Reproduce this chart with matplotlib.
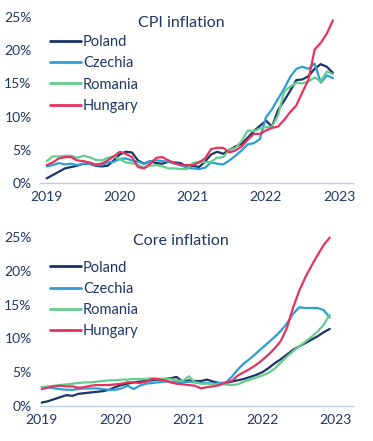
import matplotlib
matplotlib.use('Agg')
import matplotlib.pyplot as plt
import numpy as np

# ---------------- data (monthly, Jan 2019 - Dec 2022) ----------------
countries = ['Poland', 'Czechia', 'Romania', 'Hungary']
year_ticks = ['2019', '2020', '2021', '2022', '2023']
y_ticks = [0, 5, 10, 15, 20, 25]

cpi_poland = [0.7, 1.2, 1.7, 2.2, 2.4, 2.6, 2.9, 2.9, 2.6, 2.5, 2.6, 3.4,
              4.3, 4.7, 4.6, 3.4, 2.9, 3.3, 3.0, 2.9, 3.2, 3.1, 3.0, 2.4,
              2.6, 2.4, 3.2, 4.3, 4.7, 4.4, 5.0, 5.5, 5.9, 6.8, 7.8, 8.6,
              9.4, 8.5, 11.0, 12.4, 13.9, 15.5, 15.6, 16.1, 17.2, 17.9, 17.5, 16.6]
cpi_czechia = [2.5, 2.7, 3.0, 2.8, 2.9, 2.7, 2.9, 2.9, 2.7, 2.7, 3.1, 3.2,
               3.6, 3.7, 3.4, 3.2, 2.9, 3.3, 3.4, 3.3, 3.2, 2.9, 2.7, 2.3,
               2.2, 2.1, 2.3, 3.1, 2.9, 2.8, 3.4, 4.1, 4.9, 5.8, 6.0, 6.6,
               9.9, 11.1, 12.7, 14.2, 16.0, 17.2, 17.5, 17.2, 18.0, 15.1, 16.2, 15.8]
cpi_romania = [3.3, 4.0, 4.0, 4.1, 4.1, 3.8, 4.1, 3.9, 3.5, 3.4, 3.8, 4.0,
               3.6, 3.1, 3.0, 2.7, 2.3, 2.6, 2.7, 2.5, 2.2, 2.2, 2.1, 2.1,
               3.0, 3.2, 3.1, 3.2, 3.8, 3.9, 5.0, 5.3, 6.3, 7.9, 7.8, 8.2,
               8.4, 8.5, 10.2, 13.8, 14.5, 15.1, 15.0, 15.3, 15.9, 15.3, 16.8, 16.4]
cpi_hungary = [2.7, 3.1, 3.7, 3.9, 3.9, 3.4, 3.3, 3.1, 2.8, 2.9, 3.4, 4.0,
               4.7, 4.4, 3.9, 2.4, 2.2, 2.9, 3.8, 3.9, 3.4, 3.0, 2.7, 2.7,
               2.7, 3.1, 3.7, 5.1, 5.3, 5.3, 4.6, 4.9, 5.5, 6.5, 7.4, 7.4,
               7.9, 8.3, 8.5, 9.5, 10.7, 11.7, 13.7, 15.6, 20.1, 21.1, 22.5, 24.5]

core_poland = [0.5, 0.7, 1.0, 1.3, 1.6, 1.5, 1.8, 1.9, 2.0, 2.1, 2.2, 2.4,
               2.8, 3.1, 3.3, 3.5, 3.6, 3.7, 3.8, 3.9, 4.0, 4.1, 4.3, 3.6,
               3.8, 3.7, 3.7, 3.9, 3.6, 3.4, 3.4, 3.6, 3.8, 4.0, 4.3, 4.6,
               5.0, 5.6, 6.3, 6.9, 7.6, 8.3, 8.8, 9.3, 9.8, 10.3, 10.9, 11.4]
core_czechia = [2.8, 2.8, 2.6, 2.5, 2.4, 2.4, 2.5, 2.6, 2.6, 2.6, 2.5, 2.4,
                2.4, 2.6, 3.0, 2.5, 3.0, 3.3, 3.4, 3.5, 3.6, 3.6, 3.5, 3.5,
                3.6, 3.5, 3.4, 3.4, 3.3, 3.4, 3.4, 4.3, 5.4, 6.3, 7.0, 7.8,
                8.6, 9.4, 10.2, 11.1, 12.2, 13.6, 14.6, 14.5, 14.5, 14.5, 14.2, 13.1]
core_romania = [2.8, 2.9, 3.0, 3.1, 3.2, 3.3, 3.4, 3.5, 3.5, 3.6, 3.7, 3.8,
                3.8, 3.9, 3.9, 4.0, 4.0, 4.0, 4.1, 4.0, 4.0, 4.0, 3.8, 3.7,
                4.4, 3.5, 3.3, 3.3, 3.2, 3.2, 3.2, 3.1, 3.2, 3.6, 3.9, 4.2,
                4.5, 4.9, 5.5, 6.4, 7.3, 8.1, 8.8, 9.5, 10.2, 11.0, 12.0, 13.5]
core_hungary = [2.5, 2.7, 2.9, 3.0, 2.9, 2.9, 2.7, 2.8, 3.0, 3.1, 3.1, 3.1,
                3.2, 3.3, 3.5, 3.5, 3.4, 3.6, 4.0, 4.0, 3.8, 3.5, 3.3, 3.2,
                3.1, 3.0, 2.6, 2.8, 2.9, 3.1, 3.5, 3.7, 4.5, 5.0, 5.5, 6.1,
                6.8, 7.6, 8.5, 9.6, 11.5, 14.5, 17.0, 19.0, 20.7, 22.3, 23.8, 24.9]

# ---------------- style ----------------
colors = {'Poland': '#1b3468', 'Czechia': '#2aa0d2',
          'Romania': '#66cd8c', 'Hungary': '#e6325e'}
text_color = '#1f3566'
spine_color = '#b9d0e3'
plt.rcParams['font.family'] = ['Lato', 'DejaVu Sans']

W, H = 373, 441
fig = plt.figure(figsize=(W / 100, H / 100), dpi=100)
fig.patch.set_facecolor('white')

months = np.arange(len(cpi_poland))


def px_axes(left, right, bottom_px, top_px):
    return fig.add_axes([left / W, 1 - bottom_px / H,
                         (right - left) / W, (bottom_px - top_px) / H])


def style(ax, xlim):
    ax.set_xlim(*xlim)
    ax.set_ylim(0, 25.8)
    for s in ['top', 'right', 'left']:
        ax.spines[s].set_visible(False)
    ax.spines['bottom'].set_color(spine_color)
    ax.spines['bottom'].set_linewidth(1.0)
    ax.set_xticks([0, 12, 24, 36, 48])
    ax.set_xticklabels(year_ticks)
    ax.set_yticks(y_ticks)
    ax.set_yticklabels([f'{v}%' for v in y_ticks])
    ax.tick_params(axis='both', length=0, labelsize=10, labelcolor=text_color)
    ax.tick_params(axis='y', pad=6)
    ax.tick_params(axis='x', pad=6)


def draw(ax, series, title, title_y, leg_top):
    for name, vals in zip(countries, series):
        ax.plot(months, vals, color=colors[name], lw=1.6, label=name,
                solid_joinstyle='round', solid_capstyle='round')
    fig.text(181 / W, 1 - title_y / H, title, ha='center', va='center',
             fontsize=11.5, color=text_color)
    leg = ax.legend(loc='upper left', bbox_to_anchor=(50 / W, 1 - leg_top / H),
                    bbox_transform=fig.transFigure, frameon=False,
                    fontsize=10.5, handlelength=2.1, handletextpad=0.15,
                    labelspacing=0.5, borderpad=0, borderaxespad=0)
    for t in leg.get_texts():
        t.set_color(text_color)
    for l in leg.get_lines():
        l.set_linewidth(2.0)


ax1 = px_axes(40, 353, 183, 11.7)
style(ax1, (-1.1, 50.3))
draw(ax1, [cpi_poland, cpi_czechia, cpi_romania, cpi_hungary],
     'CPI inflation', 23, 35)

ax2 = px_axes(40, 353, 406, 231.6)
style(ax2, (-0.28, 50.8))
draw(ax2, [core_poland, core_czechia, core_romania, core_hungary],
     'Core inflation', 241, 260.5)

fig.savefig('out.png', dpi=100, facecolor='white')
